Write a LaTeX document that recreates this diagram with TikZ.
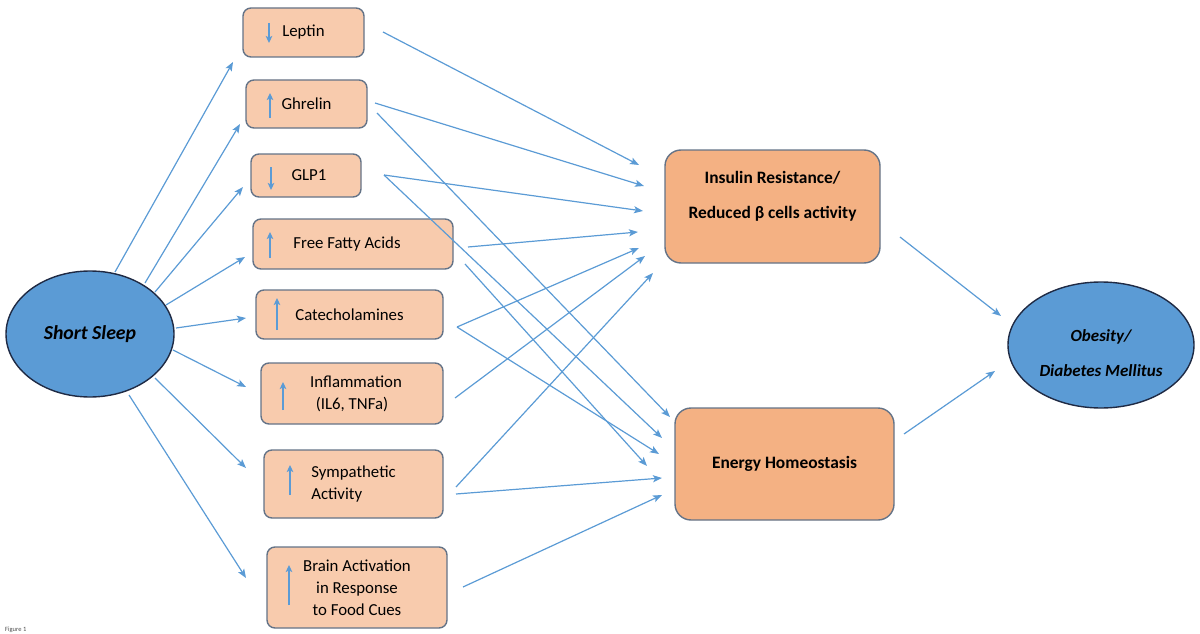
\documentclass[tikz,border=0pt]{standalone}
\usepackage{fontspec}
\setmainfont{Carlito}
\usetikzlibrary{arrows.meta,shapes.geometric}
\definecolor{lnblue}{RGB}{91,155,213}
\definecolor{peachL}{RGB}{248,203,173}
\definecolor{peachD}{RGB}{244,177,131}
\definecolor{boxline}{RGB}{100,115,135}
\definecolor{ellline}{RGB}{31,42,68}
\definecolor{ellfill}{RGB}{91,155,213}
\tikzset{
  smallbox/.style={draw=boxline, line width=1.4pt, fill=peachL, rounded corners=8pt, inner sep=0pt,
    font=\fontsize{16.8}{22}\selectfont, align=center},
  bigbox/.style={draw=boxline, line width=1.4pt, fill=peachD, rounded corners=16pt, inner sep=0pt,
    font=\bfseries\fontsize{17.4}{35}\selectfont, align=center},
  oval/.style={ellipse, draw=ellline, line width=1.4pt, fill=ellfill, inner sep=0pt,
    font=\bfseries\itshape\fontsize{17}{35}\selectfont, align=center},
  arr/.style={draw=lnblue, line width=1.2pt, -{Stealth[length=9pt,width=7pt,inset=2pt]}},
  tick/.style={draw=lnblue, line width=1.4pt, -{Stealth[length=7pt,width=6.5pt,inset=1.5pt]}}
}
\begin{document}
\begin{tikzpicture}[x=1pt,y=-1pt]
\useasboundingbox (0,0) rectangle (1200,634);
% nodes
\node[oval, minimum width=168, minimum height=126, font=\bfseries\itshape\fontsize{19.8}{24}\selectfont] (ss) at (90,334) {Short Sleep};
\node[smallbox, minimum width=121, minimum height=49] (lep) at (303.5,32.5) {Leptin};
\node[smallbox, minimum width=121, minimum height=48] (ghr) at (306.5,104) {Ghrelin};
\node[smallbox, minimum width=110, minimum height=43] (glp) at (306,175.5) {\hspace*{6pt}GLP1};
\node[smallbox, minimum width=200, minimum height=50] (ffa) at (353,244) {\hspace*{-12pt}Free Fatty Acids};
\node[smallbox, minimum width=187, minimum height=49] (cat) at (349.5,314.5) {Catecholamines};
\node[smallbox, minimum width=182, minimum height=61] (inf) at (352,393.5) {\hspace*{8pt}Inflammation\\(IL6, TNFa)};
\node[smallbox, minimum width=179, minimum height=68, align=left] (sym) at (353.5,484) {Sympathetic\\Activity};
\node[smallbox, minimum width=180, minimum height=81] (bra) at (357,587.5) {Brain Activation\\in Response\\to Food Cues};
\node[bigbox, minimum width=215, minimum height=113] (ins) at (772.5,206.5) {Insulin Resistance/\\Reduced β cells activity\\[-12pt]\mbox{}};
\node[bigbox, minimum width=219, minimum height=112] (ene) at (784.5,464) {Energy Homeostasis};
\node[oval, minimum width=186, minimum height=126] (obe) at (1101,345) {\mbox{}\\[-6pt]Obesity/\\Diabetes Mellitus};
\node[anchor=south west, font=\fontsize{6.5}{7}\selectfont, text=black!70, inner sep=0pt] (fig) at (5,632.5) {Figure 1};
% small arrows in boxes
\draw[tick] ([shift={(-34.5,-9.5)}]lep.center) -- ([shift={(-34.5,10.5)}]lep.center);
\draw[tick] ([shift={(-36.5,14)}]ghr.center) -- ([shift={(-36.5,-11)}]ghr.center);
\draw[tick] ([shift={(-35,-8.5)}]glp.center) -- ([shift={(-35,14.5)}]glp.center);
\draw[tick] ([shift={(-83,14)}]ffa.center) -- ([shift={(-83,-12)}]ffa.center);
\draw[tick] ([shift={(-72.5,15.5)}]cat.center) -- ([shift={(-72.5,-16.5)}]cat.center);
\draw[tick] ([shift={(-69,16.5)}]inf.center) -- ([shift={(-69,-11.5)}]inf.center);
\draw[tick] ([shift={(-63.5,11)}]sym.center) -- ([shift={(-63.5,-19)}]sym.center);
\draw[tick] ([shift={(-68,17.5)}]bra.center) -- ([shift={(-68,-22.5)}]bra.center);
% short sleep to factors
\draw[arr] ([shift={(25,-62)}]ss.center) -- ([shift={(-70.5,29.5)}]lep.center);
\draw[arr] ([shift={(55,-51)}]ss.center) -- ([shift={(-66.5,20)}]ghr.center);
\draw[arr] ([shift={(65,-42)}]ss.center) -- ([shift={(-63,11.5)}]glp.center);
\draw[arr] ([shift={(76,-29)}]ss.center) -- ([shift={(-108,13)}]ffa.center);
\draw[arr] ([shift={(86,-6)}]ss.center) -- ([shift={(-103.5,3.5)}]cat.center);
\draw[arr] ([shift={(83,16)}]ss.center) -- ([shift={(-106,-6.5)}]inf.center);
\draw[arr] ([shift={(65,44)}]ss.center) -- ([shift={(-107.5,-16)}]sym.center);
\draw[arr] ([shift={(39,61)}]ss.center) -- ([shift={(-111,-9.5)}]bra.center);
% factors to insulin resistance
\draw[arr] ([shift={(79.5,-0.5)}]lep.center) -- ([shift={(-133.5,-41.5)}]ins.center);
\draw[arr] ([shift={(68.5,-1)}]ghr.center) -- ([shift={(-128.5,-20.5)}]ins.center);
\draw[arr] ([shift={(78,-0.5)}]glp.center) -- ([shift={(-129.5,4.5)}]ins.center);
\draw[arr] ([shift={(115,3)}]ffa.center) -- ([shift={(-134.5,25.5)}]ins.center);
\draw[arr] ([shift={(107.5,12.5)}]cat.center) -- ([shift={(-133.5,41.5)}]ins.center);
\draw[arr] ([shift={(103,4.5)}]inf.center) -- ([shift={(-127.5,49.5)}]ins.center);
\draw[arr] ([shift={(102.5,3)}]sym.center) -- ([shift={(-119.5,66.5)}]ins.center);
% factors to energy homeostasis
\draw[arr] ([shift={(70.5,9)}]ghr.center) -- ([shift={(-114.5,-47)}]ene.center);
\draw[arr] ([shift={(78,-0.5)}]glp.center) -- ([shift={(-122.5,-26)}]ene.center);
\draw[arr] ([shift={(112,20)}]ffa.center) -- ([shift={(-137.5,2)}]ene.center);
\draw[arr] ([shift={(107.5,12.5)}]cat.center) -- ([shift={(-125.5,-10)}]ene.center);
\draw[arr] ([shift={(102.5,10)}]sym.center) -- ([shift={(-122.5,14)}]ene.center);
\draw[arr] ([shift={(106,-0.5)}]bra.center) -- ([shift={(-122.5,31)}]ene.center);
% to obesity
\draw[arr] ([shift={(127.5,30.5)}]ins.center) -- ([shift={(-100,-29)}]obe.center);
\draw[arr] ([shift={(119.5,-30)}]ene.center) -- ([shift={(-106,26)}]obe.center);
\end{tikzpicture}
\end{document}
